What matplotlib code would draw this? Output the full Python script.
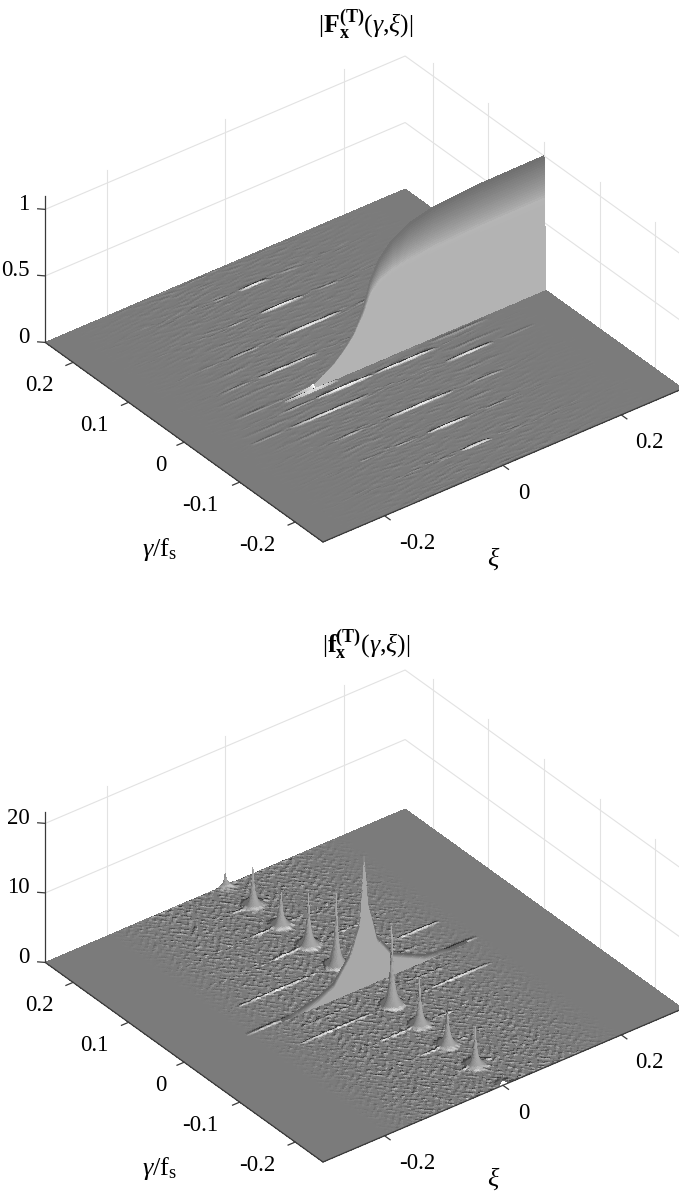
import numpy as np
import matplotlib
matplotlib.use("Agg")
import matplotlib.pyplot as plt
from mpl_toolkits.mplot3d import proj3d

plt.rcParams['font.family'] = ['Liberation Serif', 'DejaVu Serif']
plt.rcParams['mathtext.fontset'] = 'custom'
plt.rcParams['mathtext.rm'] = 'Liberation Serif'
plt.rcParams['mathtext.it'] = 'Liberation Serif:italic'
plt.rcParams['mathtext.bf'] = 'Liberation Serif:bold'
plt.rcParams['mathtext.fallback'] = 'stix'

W, H = 685, 1195
XI_LIM = (-0.304, 0.304)
GAMMA_LIM = (-0.25, 0.25)
XI_TICKS = [-0.2, 0, 0.2]
GAMMA_TICKS = [-0.2, -0.1, 0, 0.1, 0.2]
XI_LABELS = ['-0.2', '0', '0.2']
GAMMA_LABELS = ['-0.2', '-0.1', '0', '0.1', '0.2']

# upper panel
F_Z_TICKS = [0, 0.5, 1]
F_Z_LABELS = ['0', '0.5', '1']
F_ZMAX = 1.1
F_WALL_XI = [-0.13, -0.09, -0.052, -0.035, -0.0186, -0.0017, 0.010, 0.025, 0.047, 0.075, 0.1166, 0.16, 0.2, 0.304]
F_WALL_H = [0.0, 0.01, 0.117, 0.19, 0.28, 0.44, 0.62, 0.75, 0.854, 0.925, 0.97, 0.985, 0.995, 1.0]
# gamma, xi start, xi end, strength
F_STREAKS = [
    (0.25, -0.012, 0.012, -0.25), (0.2, -0.025, 0.025, 0.9), (0.2, -0.067, -0.043, 0.22), (0.2, 0.04, 0.08, 0.14),
    (0.15, -0.035, 0.035, 1.0), (0.15, -0.09, -0.05, 0.22), (0.15, 0.056, 0.096, 0.28),
    (0.1, -0.055, 0.055, 1.0), (0.1, -0.136, -0.085, 0.32), (0.1, 0.08, 0.12, 0.28),
    (0.05, -0.134, -0.034, 0.75), (0.05, -0.2, -0.14, 0.2), (-0.006, -0.14, -0.05, 1.3), (0.0, -0.22, -0.14, 0.2),
    (-0.021, -0.1, -0.004, 1.2), (-0.021, -0.004, 0.1, 1.0), (-0.021, -0.17, -0.105, 0.25),
    (-0.05, -0.174, -0.04, 0.8), (-0.05, 0.09, 0.17, 0.85), (-0.05, -0.24, -0.18, 0.18), (-0.05, 0.18, 0.24, 0.12),
    (-0.1, -0.055, 0.055, 1.0), (-0.1, -0.148, -0.089, 0.35), (-0.1, 0.08, 0.14, 0.3),
    (-0.15, -0.035, 0.035, 1.0), (-0.15, -0.09, -0.05, 0.25), (-0.15, 0.06, 0.1, 0.28),
    (-0.2, -0.025, 0.025, 0.9), (-0.2, -0.067, -0.043, 0.2), (-0.2, 0.04, 0.08, 0.14),
    (-0.25, -0.012, 0.012, -0.25), (0.125, -0.02, 0.012, -0.3), (0.175, -0.012, 0.008, -0.22),
    (0.075, -0.01, 0.02, -0.45), (0.03, -0.03, -0.005, -0.5), (-0.075, -0.02, 0.02, -0.5),
    (-0.125, -0.015, 0.012, -0.3), (-0.175, -0.01, 0.008, -0.22), (-0.01, -0.09, 0.08, -0.4),
    (0.075, -0.2, -0.1, 0.14), (0.03, -0.22, -0.12, 0.14), (-0.035, -0.24, -0.12, 0.14), (-0.075, -0.22, -0.1, 0.14),
    (-0.125, -0.17, -0.08, 0.12), (0.1, -0.19, -0.14, 0.12), (0.125, -0.16, -0.08, 0.1), (-0.15, -0.15, -0.1, 0.12),
    (0.035, 0.03, 0.12, 0.25), (-0.035, 0.1, 0.2, 0.18), (-0.075, 0.08, 0.17, 0.14), (-0.125, 0.05, 0.11, 0.14),
    (0.0, 0.11, 0.2, 0.12), (-0.01, 0.1, 0.2, 0.3),
]
F_RIPPLE_XI = [-0.27, -0.2, -0.1, 0.1, 0.2, 0.27]
F_RIPPLE_E = [0.0, 0.3, 1.0, 0.7, 0.15, 0.0]

# lower panel
f_Z_TICKS = [0, 10, 20]
f_Z_LABELS = ['0', '10', '20']
f_ZMAX = 21.6
f_WALL_XI = [-0.15, -0.13, -0.079, -0.052, -0.0236, -0.0068, 0.0, 0.0068, 0.022, 0.049, 0.1, 0.145, 0.19]
f_WALL_H = [0.0, 0.1, 1.15, 2.2, 5.5, 9.6, 18.7, 11.6, 6.2, 2.9, 0.8, 0.1, 0.0]
f_PEAK_GAMMA = [0.25, 0.2, 0.15, 0.1, 0.05, -0.05, -0.1, -0.15, -0.2, -0.25]
f_PEAK_H = [1.9, 5.8, 5.9, 8.0, 11.0, 12.0, 7.0, 6.2, 5.8, 1.9]
f_STREAKS = [
    (-0.05, -0.16, -0.03, 1.0), (-0.05, 0.056, 0.167, 1.0), (-0.1, -0.07, -0.01, 1.0), (-0.1, 0.02, 0.06, 0.6),
    (-0.15, -0.046, -0.007, 0.9), (-0.15, 0.01, 0.03, 0.8), (-0.2, -0.029, -0.005, 0.8), (-0.2, 0.01, 0.03, 0.8),
    (0.05, 0.097, 0.173, 1.0), (0.0, 0.1, 0.19, 0.8), (0.05, -0.172, -0.031, 1.0), (0.1, -0.07, -0.01, 1.0),
    (0.1, 0.04, 0.08, 0.5), (0.15, -0.053, -0.01, 0.9), (0.15, 0.005, 0.03, 0.6), (0.2, -0.04, -0.01, 0.7),
    (0.2, 0.005, 0.025, 0.5), (0.0, -0.2, -0.12, 0.7), (-0.025, -0.13, -0.04, 0.5), (-0.025, 0.03, 0.13, 0.5),
    (0.025, 0.07, 0.12, 0.5),
]
f_SPECKLE_XI = [-0.2, -0.175, -0.13, -0.1, 0.08, 0.12, 0.16, 0.2]
f_SPECKLE_E = [0.0, 0.25, 0.8, 1.0, 1.0, 0.7, 0.3, 0.0]

# hand-typed relief cells for the floor texture (an estimate of its look, not a measurement)
TILE_A = np.array([
    [ 2,-1, 3,-2, 0, 1,-3, 2, 1,-2, 3, 0,-1, 2,-3, 1,-1],
    [-3, 1, 0, 2,-2, 3, 1,-1,-3, 2, 0,-2, 3,-1, 1, 0, 2],
    [ 1, 3,-2,-1, 3,-3, 0, 2, 1,-1,-2, 3, 0, 2,-2,-3, 1],
    [ 0,-2, 1, 3,-1, 2,-2,-3, 3, 0, 1,-1,-3, 1, 3, 2,-1],
    [-1, 2,-3, 0, 2,-1, 3, 1,-2,-3, 2, 1, 3,-2, 0,-1, 3],
    [ 3,-3, 2,-2, 1, 0,-1, 3, 2, 1,-3, 0,-2, 3,-1, 2,-2],
    [-2, 0, 1, 3,-3, 2, 1,-2, 0, 3,-1,-3, 2, 0, 1,-3, 2],
    [ 1, 2,-1,-3, 0, 3,-2, 1,-3, 2, 3,-2, 1,-1, 3, 0,-3],
    [-3, 3, 0, 1, 2,-2,-1, 3, 1,-1, 0, 2,-3, 3,-2, 1, 0],
    [ 2,-1,-2, 3,-3, 1, 2,-3, 0, 3,-2, 1, 0,-2, 2, 3,-1],
    [ 0, 2, 3,-1, 1,-3, 3, 0,-2, 1, 2,-3, 3, 1,-1,-2, 2],
    [-1,-3, 1, 2, 3, 0,-2, 2, 3,-3, 1, 2,-1, 0, 3,-2, 1],
    [ 3, 1,-2, 0,-1, 2, 1,-3, 2, 0,-3, 3, 1,-2,-1, 2,-3],
], dtype=float)
TILE_B = np.array([
    [ 1,-2, 2, 0,-3, 1, 3,-1,-2, 2, 0],
    [-3, 1,-1, 3, 2,-2, 0, 1, 3,-3, 2],
    [ 2, 3,-2,-1, 0, 3,-3, 2,-1, 1,-2],
    [ 0,-1, 3, 1,-2,-3, 2, 0, 1,-2, 3],
    [-2, 2, 0,-3, 3, 1,-1,-2, 3, 0,-1],
    [ 3,-3, 1, 2,-1, 0, 2, 3,-3, 1, 1],
    [-1, 0,-3, 2, 1,-2, 3,-1, 0, 2,-3],
], dtype=float)

xi = np.unique(np.r_[np.linspace(*XI_LIM, 330), np.arange(-0.012, 0.012, 0.0007)])
wall_w = 0.0035
gam = [np.arange(-0.25, 0.25, 0.0015), [0.25, 0.0006], np.linspace(-wall_w, 0, 60)]
for g in f_PEAK_GAMMA + [-0.021]:
    gam.append(np.clip(np.arange(g - 0.004, g + 0.004, 0.0008), -0.25, 0.25))
gamma = np.unique(np.round(np.concatenate(gam), 6))
XI, GA = np.meshgrid(xi, gamma)
PX_XI, PX_GA = 747.0, 910.0
ELEV, AZIM = 33.6, -127.6


def relief(tile, cx, cy):
    u, v = XI / cx, GA / cy
    iu, iv = np.floor(u).astype(int), np.floor(v).astype(int)
    fu, fv = u - iu, v - iv
    r, c = tile.shape
    a = tile[iv % r, iu % c]
    b = tile[iv % r, (iu + 1) % c]
    d = tile[(iv + 1) % r, iu % c]
    e = tile[(iv + 1) % r, (iu + 1) % c]
    return (a * (1 - fu) + b * fu) * (1 - fv) + (d * (1 - fu) + e * fu) * fv


def streak_field(streaks, unit, width):
    z = np.zeros_like(XI)
    for g, x0, x1, s in streaks:
        t = np.clip((XI - x0) / (x1 - x0), 0, 1)
        z += s * unit * np.sin(np.pi * t) ** 0.6 * np.exp(-((GA - g) / width) ** 2)
    return z


def wall_profile():
    p = np.zeros_like(GA)
    m = (GA >= -wall_w) & (GA <= 0)
    p[m] = (GA[m] + wall_w) / wall_w
    return p, m


def shade(z, pz):
    dz_g, dz_x = np.gradient(z, gamma, xi)
    sx, sg = dz_x * pz / PX_XI, dz_g * pz / PX_GA
    nn = np.sqrt(1 + sx ** 2 + sg ** 2)
    dot = (0.25 * sx + 0.75 * sg + 0.6) / nn
    return np.clip(-0.435 + 1.53 * dot, 0.2, 1.0)


def surface_F():
    z = streak_field(F_STREAKS, 0.008, 0.0017)
    env = np.interp(XI, F_RIPPLE_XI, F_RIPPLE_E)
    z += 0.00028 * env * relief(TILE_A, 0.02, 0.0023)
    z += 0.00018 * env * relief(TILE_B, 0.011, 0.003)
    h = np.interp(XI, F_WALL_XI, F_WALL_H)
    p, m = wall_profile()
    z = np.maximum(z, h * p)
    g = shade(z, 133.0)
    band = np.interp(h, [0, 0.3, 0.65, 1], [0.08, 0.1, 0.2, 0.38])
    t = np.clip((p - (1 - band)) / band, 0, 1)
    wall = 0.70 + 0.012 * np.clip(t * 6, 0, 1) - 0.28 * np.clip((t - 0.15) / 0.85, 0, 1) ** 0.8
    mm = m & (h > 0.02)
    g[mm] = wall[mm]
    return z, g


def surface_f():
    z = streak_field(f_STREAKS, 0.13, 0.0018)
    env = np.interp(XI, f_SPECKLE_XI, f_SPECKLE_E)
    z += 0.023 * env * relief(TILE_A, 0.0040, 0.0034)
    z += 0.015 * env * relief(TILE_B, 0.0056, 0.0046)
    zp = np.zeros_like(XI)
    reach = 14.0
    for g0, a in zip(f_PEAK_GAMMA, f_PEAK_H):
        r = np.hypot(XI * PX_XI, (GA - g0) * PX_GA)
        edge = (1 + reach / 3.0) ** -1.8
        zp = np.maximum(zp, a * np.maximum((1 + r / 3.0) ** -1.8 - edge, 0) / (1 - edge))
    z = z + zp
    h = np.interp(XI, f_WALL_XI, f_WALL_H)
    p, m = wall_profile()
    z = np.maximum(z, h * p)
    g = shade(z, 6.95)
    dz_g, dz_x = np.gradient(zp, gamma, xi)
    sx, sg = np.abs(dz_x) * 6.95 / PX_XI, dz_g * 6.95 / PX_GA
    q = sx / (sx + np.abs(sg) + 1e-6)
    gp = np.where(sg >= 0, 0.66 - 0.28 * q ** 2, 0.42)
    w = np.clip(zp * 6.95 / 2.0, 0, 1)
    g = g * (1 - w) + gp * w
    px_h = h * 6.95
    t = np.clip((p * px_h - (px_h - 4.0)) / 4.0, 0, 1)
    wall = 0.66 - 0.28 * t
    mm = m & (h > 0.04)
    g[mm] = wall[mm]
    return z, g


def face_colours(z, g, pz):
    col = np.empty((z.shape[0] - 1, z.shape[1] - 1, 4))
    col[..., :3] = g[:-1, :-1, None]
    col[..., 3] = 1.0
    sg = np.diff(z, axis=0)[:, :-1] / np.diff(gamma)[:, None] * pz / PX_GA
    sx = np.diff(z, axis=1)[:-1, :] / np.diff(xi)[None, :] * pz / PX_XI
    e, a = np.radians(ELEV), np.radians(AZIM)
    facing = np.cos(e) * np.cos(a) * -sx + np.cos(e) * np.sin(a) * -sg + np.sin(e)
    col[facing < 0, 3] = 0.0
    return col


def place(ax, bottom_px, right_px):
    side = 800.0
    ax.set_position([0, 0, side / W, side / H])
    for _ in range(3):
        ax.apply_aspect()
        M = ax.get_proj()
        pts = []
        for x in XI_LIM:
            xs, ys, _z = proj3d.proj_transform(x, GAMMA_LIM[0], 0, M)
            pts.append(ax.transData.transform((xs, ys)))
        pts = np.array(pts)
        have = np.hypot(*(pts[1] - pts[0]))
        want = np.hypot(right_px[0] - bottom_px[0], right_px[1] - bottom_px[1])
        side_new = side * want / have
        pos = ax.get_position()
        ax.set_position([pos.x0, pos.y0, side_new / W, side_new / H])
        ax.apply_aspect()
        M = ax.get_proj()
        xs, ys, _z = proj3d.proj_transform(XI_LIM[0], GAMMA_LIM[0], 0, M)
        p0 = ax.transData.transform((xs, ys))
        pos = ax.get_position()
        ax.set_position([pos.x0 + (bottom_px[0] - p0[0]) / W,
                         pos.y0 + ((H - bottom_px[1]) - p0[1]) / H,
                         side_new / W, side_new / H])
        side = side_new


def to_px(ax, x, y, z):
    xs, ys, _z = proj3d.proj_transform(x, y, z, ax.get_proj())
    return ax.transData.transform((xs, ys))


def panel(fig, dy, title, zticks, zlabels, zmax, pz, surf):
    ax = fig.add_axes([0, 0, 1, 1], projection='3d', proj_type='ortho')
    ax.computed_zorder = False
    ax.set_axis_off()
    ax.patch.set_alpha(0)
    ax.set_xlim(*XI_LIM)
    ax.set_ylim(*GAMMA_LIM)
    ax.set_zlim(0, zmax)
    ax.view_init(elev=ELEV, azim=AZIM)
    ax.set_box_aspect((454, 455, zmax * pz / np.cos(np.radians(ELEV))))
    place(ax, (323, 542 + dy), (683, 389 + dy))

    x0, x1 = XI_LIM
    y0, y1 = GAMMA_LIM
    gc = dict(color='#e2e2e2', lw=0.8, zorder=1)
    for t in XI_TICKS:
        ax.plot([t, t], [y1, y1], [0, zmax], **gc)
    for t in GAMMA_TICKS:
        ax.plot([x1, x1], [t, t], [0, zmax], **gc)
    for t in zticks[1:]:
        ax.plot([x0, x1, x1], [y1, y1, y0], [t, t, t], **gc)

    z, g = surf()
    col = face_colours(z, g, pz)
    ax.plot_surface(XI, GA, z, facecolors=col, rstride=1, cstride=1, shade=False,
                    antialiased=False, linewidth=0, edgecolor='none', zorder=2)

    ac = dict(color='#3a3a3a', lw=0.9, zorder=3)
    ax.plot([x0, x1], [y0, y0], [0, 0], **ac)
    ax.plot([x0, x0], [y0, y1], [0, 0], **ac)
    ax.plot([x0, x0], [y1, y1], [0, zmax], **ac)
    tick_x = 0.012
    tick_y = 0.010
    for t in XI_TICKS:
        ax.plot([t, t], [y0, y0 - tick_y], [0, 0], clip_on=False, **ac)
    for t in GAMMA_TICKS:
        ax.plot([x0, x0 - tick_x], [t, t], [0, 0], clip_on=False, **ac)
    for t in zticks:
        ax.plot([x0, x0 - tick_x * 0.6], [y1, y1 + tick_y * 0.6], [t, t], clip_on=False, **ac)

    fs = 16.5
    def label(px, py, s, size=fs, **kw):
        fig.text(px / W, py, s, fontsize=size, ha=kw.pop('ha', 'center'), va='center',
                 transform=fig.transFigure, **kw)
    def fy(y):
        return 1 - (y + dy) / H
    for t, s in zip(XI_TICKS, XI_LABELS):
        p = to_px(ax, t, y0, 0)
        off = 33 if s.startswith('-') else (21 if s == '0' else 28)
        label(p[0] + off, (p[1] - 28) / H, s)
    for t, s in zip(GAMMA_TICKS, GAMMA_LABELS):
        p = to_px(ax, x0, t, 0)
        off = {'0.2': -34, '0.1': -34, '0': -23, '-0.1': -39, '-0.2': -38}[s]
        label(p[0] + off, (p[1] - 23) / H, s)
    for t, s in zip(zticks, zlabels):
        p = to_px(ax, x0, y1, t)
        label(p[0] - 16, (p[1] + 5) / H, s, ha='right')
    label(494, fy(559), r'$\xi$', size=19)
    label(160, fy(549), r'$\gamma/\mathrm{f}_{\mathrm{s}}$', size=19)
    label(366, fy(24), title, size=18.5)


fig = plt.figure(figsize=(W / 100, H / 100), dpi=100)
panel(fig, 0, r'$|\mathbf{F}_{\mathbf{x}}^{\mathbf{(T)}}(\gamma{,}\xi)|$', F_Z_TICKS, F_Z_LABELS, F_ZMAX, 133.0, surface_F)
panel(fig, 620, r'$|\mathbf{f}_{\mathbf{x}}^{\mathbf{(T)}}(\gamma{,}\xi)|$', f_Z_TICKS, f_Z_LABELS, f_ZMAX, 6.95, surface_f)
fig.savefig('out.png', dpi=100, facecolor='white')
